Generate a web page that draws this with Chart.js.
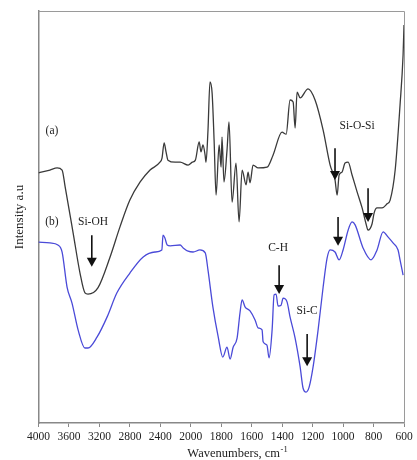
<!DOCTYPE html>
<html>
<head>
<meta charset="utf-8">
<script src="https://cdn.jsdelivr.net/npm/chart.js@4.4.1/dist/chart.umd.min.js"></script>
<style>
  body { margin: 0; background: #fff; }
  canvas { display: block; }
</style>
</head>
<body>
<canvas id="chart" width="417" height="460"></canvas>
<script>
// tick labels of the wavenumber axis (scale changes at 2000)
const xTicks = [4000, 3600, 3200, 2800, 2400, 2000, 1800, 1600, 1400, 1200, 1000, 800, 600];

// spectrum (a)
const aWave = [4000, 3850, 3755, 3690, 3650, 3545, 3455, 3390, 3350, 3220, 3060, 2930, 2800, 2665, 2535, 2405,
    2378, 2350, 2325, 2300, 2205, 2140, 2035, 1990, 1970, 1945, 1933, 1920, 1906, 1900, 1887, 1874, 1860, 1847,
    1834, 1814, 1801, 1795, 1782, 1762, 1749, 1729, 1703, 1683, 1663, 1637, 1624, 1611, 1591, 1558, 1499, 1460,
    1401, 1374, 1348, 1328, 1315, 1302, 1282, 1230, 1184, 1131, 1085, 1053, 1039, 1026, 1007, 987, 967, 941,
    908, 875, 849, 836, 810, 796, 777, 744, 711, 691, 658, 626, 606, 600];
const aInt = [60.7, 61.4, 61.9, 61.4, 57.3, 46.1, 36.4, 31.6, 31.3, 32.8, 40.3, 47.6, 54.1, 58.5, 61.4, 63.3,
    64.3, 68.0, 65.8, 63.8, 63.3, 63.3, 62.6, 63.3, 63.8, 68.2, 65.8, 67.5, 65.0, 63.3, 71.1, 82.8, 80.1, 68.7,
    55.3, 67.5, 62.1, 69.4, 58.5, 66.3, 73.1, 53.6, 63.1, 48.8, 61.4, 57.8, 60.9, 58.3, 62.6, 61.9, 62.1, 65.0,
    70.6, 70.1, 78.4, 77.9, 71.6, 80.3, 78.9, 81.1, 78.4, 71.1, 62.6, 59.0, 55.3, 60.2, 60.9, 63.1, 63.3, 60.2,
    56.1, 52.2, 48.3, 46.8, 48.3, 51.0, 52.2, 52.2, 53.2, 54.1, 61.4, 77.2, 89.3, 96.6];

// spectrum (b)
const bWave = [4000, 3850, 3745, 3690, 3625, 3560, 3480, 3390, 3350, 3230, 3100, 2970, 2800, 2625, 2470, 2380,
    2365, 2340, 2310, 2270, 2140, 2100, 2035, 1985, 1940, 1905, 1887, 1855, 1820, 1790, 1762, 1742, 1722, 1696,
    1677, 1663, 1644, 1611, 1578, 1558, 1532, 1525, 1500, 1486, 1466, 1453, 1440, 1427, 1407, 1394, 1368, 1348,
    1315, 1282, 1263, 1243, 1223, 1197, 1164, 1131, 1105, 1085, 1053, 1026, 1000, 967, 941, 921, 869, 816,
    777, 737, 704, 672, 639, 626, 606];
const bInt = [43.9, 43.7, 43.2, 41.5, 33.0, 29.1, 22.6, 18.2, 18.2, 20.9, 25.7, 31.6, 36.4, 40.3, 41.5, 42.0,
    45.6, 44.9, 43.2, 43.0, 43.2, 42.5, 41.7, 41.5, 42.0, 41.3, 37.1, 28.2, 20.9, 16.0, 18.4, 15.5, 18.4, 20.6,
    26.7, 29.9, 28.2, 27.2, 25.0, 23.1, 22.6, 19.7, 18.9, 15.8, 22.6, 31.1, 31.3, 28.4, 28.6, 30.3, 29.4, 25.7,
    20.6, 13.6, 8.5, 7.5, 8.7, 13.6, 22.6, 33.0, 40.0, 42.0, 41.5, 39.6, 42.0, 46.8, 48.8, 48.1, 42.5, 39.6,
    42.0, 46.4, 45.1, 43.7, 42.0, 39.6, 35.9];

// labels and arrows, in wavenumber / intensity units
const labels = [
    { text: "(a)", w: 3823, v: 70.9 },
    { text: "(b)", w: 3823, v: 48.8 },
    { text: "Si-OH", w: 3284, v: 48.8 },
    { text: "Si-O-Si", w: 908, v: 72.1 },
    { text: "C-H", w: 1427, v: 42.5 },
    { text: "Si-C", w: 1236, v: 27.2 },
];
const arrows = [
    { w: 3300, from: 45.6, to: 37.9 },
    { w: 1053, from: 66.7, to: 59.0 },
    { w: 836, from: 57.0, to: 48.8 },
    { w: 1033, from: 50.0, to: 43.0 },
    { w: 1420, from: 38.3, to: 31.3 },
    { w: 1236, from: 21.6, to: 13.8 },
];

// piecewise position along the axis: one unit per tick label
function toPos(w) {
    for (let i = 0; i < xTicks.length - 1; i++) {
        if (w <= xTicks[i] && w >= xTicks[i + 1]) {
            return i + (xTicks[i] - w) / (xTicks[i] - xTicks[i + 1]);
        }
    }
    return w > xTicks[0] ? 0 : xTicks.length - 1;
}

const serif = "'Liberation Serif', 'Times New Roman', serif";

const marks = {
    id: "marks",
    afterDraw(chart) {
        const ctx = chart.ctx;
        const area = chart.chartArea;
        const xs = chart.scales.x, ys = chart.scales.y;
        ctx.save();
        // frame top and right
        ctx.strokeStyle = "#9a9a9a";
        ctx.lineWidth = 1;
        ctx.beginPath();
        ctx.moveTo(area.left, area.top + 0.5);
        ctx.lineTo(area.right + 0.5, area.top + 0.5);
        ctx.lineTo(area.right + 0.5, area.bottom);
        ctx.stroke();

        ctx.fillStyle = "#222";
        ctx.font = "11.5px " + serif;
        ctx.textAlign = "center";
        ctx.textBaseline = "middle";
        labels.forEach(l => {
            ctx.fillText(l.text, xs.getPixelForValue(toPos(l.w)), ys.getPixelForValue(l.v));
        });

        ctx.strokeStyle = "#111";
        ctx.fillStyle = "#111";
        ctx.lineWidth = 1.6;
        arrows.forEach(a => {
            const x = xs.getPixelForValue(toPos(a.w));
            const y1 = ys.getPixelForValue(a.from), y2 = ys.getPixelForValue(a.to);
            ctx.beginPath();
            ctx.moveTo(x, y1);
            ctx.lineTo(x, y2 - 8);
            ctx.stroke();
            ctx.beginPath();
            ctx.moveTo(x - 5, y2 - 9);
            ctx.lineTo(x + 5, y2 - 9);
            ctx.lineTo(x, y2);
            ctx.closePath();
            ctx.fill();
        });

        // x axis title with superscript
        ctx.fillStyle = "#222";
        ctx.textAlign = "left";
        ctx.textBaseline = "alphabetic";
        ctx.font = "12.5px " + serif;
        const main = "Wavenumbers, cm";
        const wMain = ctx.measureText(main).width;
        ctx.font = "8.5px " + serif;
        const sup = "-1";
        const wSup = ctx.measureText(sup).width;
        const cx = (area.left + area.right) / 2 + 16;
        const x0 = cx - (wMain + wSup) / 2;
        const base = area.bottom + 34;
        ctx.font = "12.5px " + serif;
        ctx.fillText(main, x0, base);
        ctx.font = "8.5px " + serif;
        ctx.fillText(sup, x0 + wMain + 0.5, base - 5);
        ctx.restore();
    }
};

new Chart(document.getElementById("chart").getContext("2d"), {
    type: "line",
    data: {
        datasets: [
            {
                label: "(a)",
                data: aWave.map((w, i) => ({ x: toPos(w), y: aInt[i] })),
                borderColor: "#3a3a3a",
                borderWidth: 1.3,
                pointRadius: 0,
                cubicInterpolationMode: "monotone",
                fill: false,
            },
            {
                label: "(b)",
                data: bWave.map((w, i) => ({ x: toPos(w), y: bInt[i] })),
                borderColor: "#4a4ad8",
                borderWidth: 1.3,
                pointRadius: 0,
                cubicInterpolationMode: "monotone",
                fill: false,
            },
        ],
    },
    options: {
        responsive: false,
        animation: false,
        devicePixelRatio: 1,
        layout: { padding: { left: 4, right: 13, top: 11, bottom: 0 } },
        plugins: {
            legend: { display: false },
            tooltip: { enabled: false },
        },
        scales: {
            x: {
                type: "linear",
                min: 0,
                max: xTicks.length - 1,
                afterFit: (s) => { s.height = 37; },
                ticks: {
                    stepSize: 1,
                    autoSkip: false,
                    maxRotation: 0,
                    padding: 3,
                    color: "#222",
                    font: { family: serif, size: 11.5 },
                    callback: (v) => xTicks[v],
                },
                grid: { drawOnChartArea: false, drawTicks: true, tickLength: 4, color: "#888" },
                border: { display: true, color: "#888", width: 1.5 },
            },
            y: {
                min: 0,
                max: 100,
                afterFit: (s) => { s.width = 34.5; },
                ticks: { display: false },
                grid: { display: false, drawTicks: false },
                border: { display: true, color: "#888", width: 1.5 },
                title: {
                    display: true,
                    text: "Intensity a.u",
                    color: "#222",
                    padding: { top: 8, bottom: 0 },
                    font: { family: serif, size: 13 },
                },
            },
        },
    },
    plugins: [marks],
});
</script>
</body>
</html>
